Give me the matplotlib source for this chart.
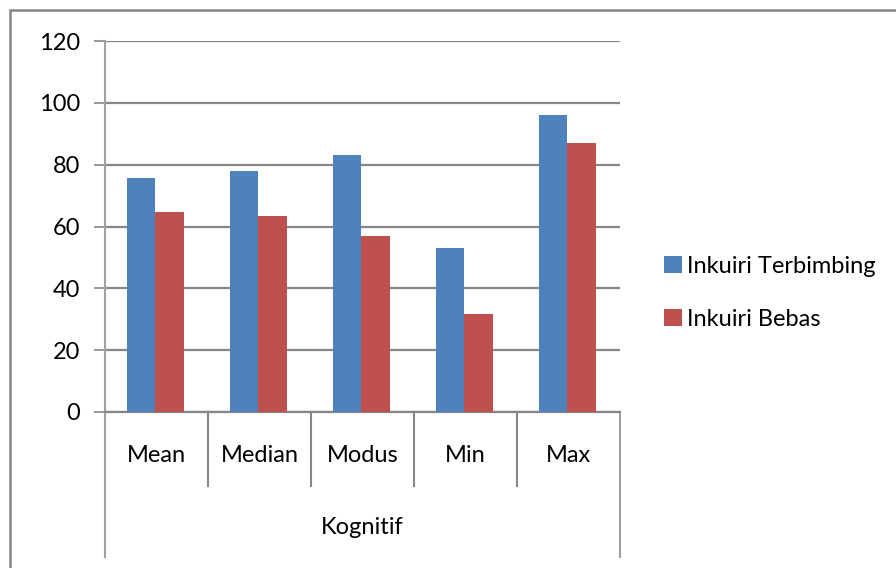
import matplotlib
matplotlib.use("Agg")
import matplotlib.pyplot as plt
import matplotlib.transforms as mtransforms
from matplotlib.patches import Rectangle
import numpy as np

categories = ["Mean", "Median", "Modus", "Min", "Max"]
group_label = "Kognitif"
series_names = ["Inkuiri Terbimbing", "Inkuiri Bebas"]
terbimbing = [75.6, 78.0, 83.0, 53.0, 96.0]
bebas = [64.6, 63.5, 57.0, 31.8, 87.0]
y_ticks = [0, 20, 40, 60, 80, 100, 120]

blue = "#4f81bd"
red = "#c0504d"
grey = "#868686"

plt.rcParams["font.family"] = ["Lato", "DejaVu Sans"]
FS = 17

W, H = 896, 568
fig = plt.figure(figsize=(W / 100, H / 100), dpi=100)
ax = fig.add_axes([105 / W, 1 - 412 / H, (620 - 105) / W, (412 - 41) / H])

# outer chart frame
fig.patches.append(Rectangle((10 / W, -0.1), 1.2, 1 - 10 / H + 0.1,
                             transform=fig.transFigure, fill=False,
                             edgecolor=grey, linewidth=1.8))

x = np.arange(len(categories))
bw = 0.28
ax.bar(x - bw / 2 - 0.01, terbimbing, bw, color=blue, label=series_names[0], zorder=3)
ax.bar(x + bw / 2 - 0.01, bebas, bw, color=red, label=series_names[1], zorder=3)

ax.set_xlim(-0.5, len(categories) - 0.5)
ax.set_ylim(0, 120)
ax.set_yticks(y_ticks)
ax.set_yticklabels([str(v) for v in y_ticks], fontsize=FS)
ax.yaxis.grid(True, color=grey, linewidth=1.6, zorder=0)
ax.set_axisbelow(True)
ax.tick_params(axis="y", length=8, width=1.2, color=grey, pad=10)
ax.set_xticks([])

for s in ["top", "right"]:
    ax.spines[s].set_visible(False)
ax.spines["left"].set_color("#a0a0a0")
ax.spines["left"].set_linewidth(1.5)
ax.spines["bottom"].set_color(grey)
ax.spines["bottom"].set_linewidth(1.6)

# category axis: separators, labels and group label below the plot
trans = mtransforms.blended_transform_factory(ax.transData, ax.transAxes)
inner_bottom = -74 / 371
outer_bottom = -145 / 371
n = len(categories)
for i in range(n + 1):
    xb = i - 0.5
    yb = outer_bottom if i in (0, n) else inner_bottom
    ax.plot([xb, xb], [0, yb], transform=trans, color=grey if 0 < i < n else "#a0a0a0",
            linewidth=1.5, clip_on=False)
for i, c in enumerate(categories):
    ax.text(i, -43 / 371, c, transform=trans, ha="center", va="center", fontsize=FS)
ax.text((n - 1) / 2, -116 / 371, group_label, transform=trans, ha="center", va="center",
        fontsize=FS)

ax.legend(loc="center left", bbox_to_anchor=(655 / W, 1 - 293 / H),
          bbox_transform=fig.transFigure, frameon=False, fontsize=FS,
          handlelength=0.75, handleheight=0.75, handletextpad=0.2,
          labelspacing=1.35, borderaxespad=0)

fig.savefig("out.png", dpi=100)
